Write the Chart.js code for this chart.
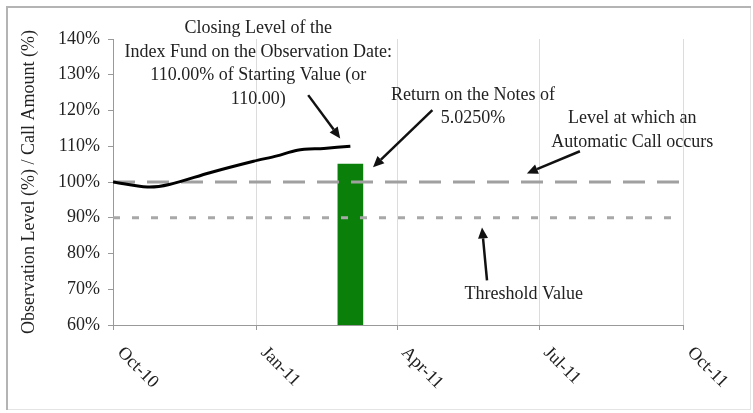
<!DOCTYPE html>
<html>
<head>
<meta charset="utf-8">
<script src="https://cdn.jsdelivr.net/npm/chart.js@4"></script>
<style>
  html, body { margin: 0; padding: 0; background: #fff; }
  #wrap { width: 753px; height: 413px; }
</style>
</head>
<body>
<div id="wrap"><canvas id="chart" width="753" height="413"></canvas></div>
<script>
// x values are days counted from 1 Oct 2010
const START = Date.UTC(2010, 9, 1);
const DAY = 86400000;

const tickLabels = ['Oct-10', 'Jan-11', 'Apr-11', 'Jul-11', 'Oct-11'];
const tickDays = [0, 92, 182, 273, 365];

const levelDays = [0, 22, 36, 62, 90, 105, 118, 135, 152];
const levelValues = [100, 98.6, 99.3, 102.6, 105.8, 107.3, 108.9, 109.4, 110];

const callDays = [152];
const callAmounts = [105.025];

const autoCallLevel = 100;
const thresholdLevel = 90;

const Y_MIN = 60, Y_MAX = 140, Y_STEP = 10;

// callouts: text centred at [day, pct] of first line
const notes = [
  { day: 93, pct: 143, lines: ['Closing Level of the', 'Index Fund on the Observation Date:', '110.00% of Starting Value (or', '110.00)'] },
  { day: 230.5, pct: 124.3, lines: ['Return on the Notes of', '5.0250%'] },
  { day: 332.5, pct: 117.8, lines: ['Level at which an', 'Automatic Call occurs'] },
  { day: 263, pct: 68.5, lines: ['Threshold Value'] }
];
// arrows: tail -> head, [day, pct]
const arrows = [
  [[125, 124.3], [145.5, 112.2]],
  [[204.5, 120.1], [166.5, 104.1]],
  [[299, 108.6], [265, 102.4]],
  [[239.5, 72.5], [236.3, 87.3]]
];

const FONT = '18px "Liberation Serif", "Times New Roman", serif';
const TXT = '#222';
const toX = d => START + d * DAY;

const extras = {
  id: 'extras',
  beforeDraw(c) {
    const ctx = c.ctx;
    ctx.save();
    ctx.strokeStyle = '#e4e4e4';
    ctx.lineWidth = 1;
    ctx.strokeRect(7.5, 7.5, 743, 402);
    ctx.strokeStyle = '#b4b4b4';
    ctx.lineWidth = 2;
    ctx.beginPath();
    ctx.moveTo(7, 410); ctx.lineTo(7, 7); ctx.lineTo(751, 7);
    ctx.stroke();
    ctx.restore();
  },
  afterDraw(c) {
    const ctx = c.ctx, xs = c.scales.x, ys = c.scales.y;
    ctx.save();
    ctx.font = FONT;
    ctx.fillStyle = TXT;
    // rotated month labels
    tickDays.forEach((d, i) => {
      const px = xs.getPixelForValue(toX(d));
      ctx.save();
      ctx.translate(px + 7, c.chartArea.bottom + 25);
      ctx.rotate(Math.PI / 4);
      ctx.textAlign = 'left';
      ctx.textBaseline = 'middle';
      ctx.fillText(tickLabels[i], 0, 0);
      ctx.restore();
    });
    // callout text
    ctx.textAlign = 'center';
    ctx.textBaseline = 'middle';
    notes.forEach(n => {
      const px = xs.getPixelForValue(toX(n.day));
      const py = ys.getPixelForValue(n.pct);
      n.lines.forEach((t, k) => ctx.fillText(t, px, py + k * 23.5));
    });
    // arrows
    ctx.strokeStyle = '#111';
    ctx.fillStyle = '#111';
    ctx.lineWidth = 2.5;
    arrows.forEach(([a, b]) => {
      const x1 = xs.getPixelForValue(toX(a[0])), y1 = ys.getPixelForValue(a[1]);
      const x2 = xs.getPixelForValue(toX(b[0])), y2 = ys.getPixelForValue(b[1]);
      const ang = Math.atan2(y2 - y1, x2 - x1);
      const hl = 11, hw = 5;
      const bx = x2 - hl * Math.cos(ang), by = y2 - hl * Math.sin(ang);
      ctx.beginPath();
      ctx.moveTo(x1, y1); ctx.lineTo(bx, by);
      ctx.stroke();
      ctx.beginPath();
      ctx.moveTo(x2, y2);
      ctx.lineTo(bx + hw * Math.sin(ang), by - hw * Math.cos(ang));
      ctx.lineTo(bx - hw * Math.sin(ang), by + hw * Math.cos(ang));
      ctx.closePath();
      ctx.fill();
    });
    ctx.restore();
  }
};

new Chart(document.getElementById('chart'), {
  type: 'line',
  data: {
    datasets: [
      {
        type: 'bar',
        data: callDays.map((d, i) => ({ x: toX(d), y: callAmounts[i] })),
        backgroundColor: '#0a800a',
        barThickness: 25,
        order: 3
      },
      {
        data: [{ x: toX(tickDays[0]), y: autoCallLevel }, { x: toX(tickDays[4]), y: autoCallLevel }],
        borderColor: '#a0a0a0',
        borderWidth: 3,
        borderDash: [22, 12],
        pointRadius: 0,
        order: 2
      },
      {
        data: [{ x: toX(tickDays[0]), y: thresholdLevel }, { x: toX(tickDays[4]), y: thresholdLevel }],
        borderColor: '#a8a8a8',
        borderWidth: 3,
        borderDash: [7, 12],
        pointRadius: 0,
        order: 2
      },
      {
        data: levelDays.map((d, i) => ({ x: toX(d), y: levelValues[i] })),
        borderColor: '#000',
        borderWidth: 3,
        tension: 0.3,
        pointRadius: 0,
        order: 1
      }
    ]
  },
  options: {
    responsive: false,
    animation: false,
    events: [],
    layout: { padding: { left: 16, top: 39, right: 70, bottom: 0 } },
    plugins: { legend: { display: false }, tooltip: { enabled: false } },
    scales: {
      x: {
        type: 'linear',
        min: toX(tickDays[0]),
        max: toX(tickDays[4]),
        offset: false,
        afterBuildTicks: s => { s.ticks = tickDays.map(d => ({ value: toX(d) })); },
        afterFit: s => { s.height = 88; },
        ticks: { display: false },
        grid: { offset: false, color: '#dcdcdc', lineWidth: 1, tickLength: 5, tickColor: '#999' },
        border: { color: '#999', width: 1 }
      },
      y: {
        min: Y_MIN,
        max: Y_MAX,
        afterFit: s => { s.width = 97; },
        ticks: {
          stepSize: Y_STEP,
          padding: 8,
          color: TXT,
          font: { family: '"Liberation Serif", serif', size: 18 },
          callback: v => v + '%'
        },
        grid: { drawOnChartArea: false, tickLength: 5, tickColor: '#999' },
        border: { color: '#999', width: 1 },
        title: {
          display: true,
          text: 'Observation Level (%) / Call Amount (%)',
          color: TXT,
          padding: { top: 2, bottom: 4 },
          font: { family: '"Liberation Serif", serif', size: 18 }
        }
      }
    }
  },
  plugins: [extras]
});
</script>
</body>
</html>
